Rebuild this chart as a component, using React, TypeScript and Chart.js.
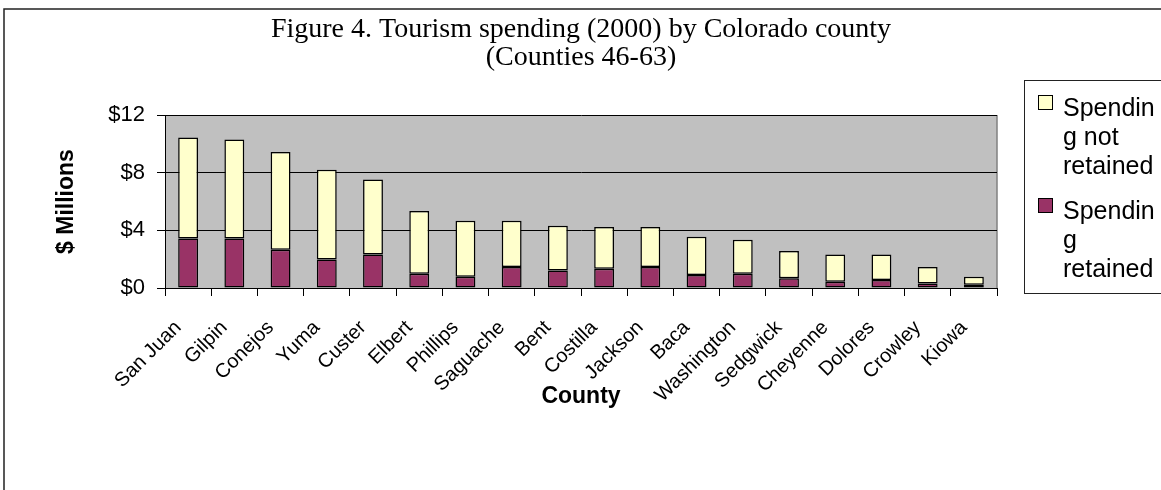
import React, { useEffect, useRef } from "react";
import { Chart, registerables } from "chart.js";

Chart.register(...registerables);

const counties = [
  "San Juan", "Gilpin", "Conejos", "Yuma", "Custer", "Elbert", "Phillips", "Saguache", "Bent",
  "Costilla", "Jackson", "Baca", "Washington", "Sedgwick", "Cheyenne", "Dolores", "Crowley", "Kiowa",
];
const retained = [3.44, 3.44, 2.66, 1.98, 2.33, 0.99, 0.78, 1.46, 1.22, 1.34, 1.46, 0.9, 0.99, 0.67, 0.44, 0.55, 0.32, 0.23];
const notRetained = [7.0, 6.86, 6.77, 6.22, 5.2, 4.35, 3.89, 3.21, 3.1, 2.89, 2.77, 2.66, 2.36, 1.9, 1.89, 1.78, 1.14, 0.55];
const yTicks = [0, 4, 8, 12];
const titleLines = ["Figure 4. Tourism spending (2000) by Colorado county", "(Counties 46-63)"];
const legendNotRetained = ["Spendin", "g not", "retained"];
const legendRetained = ["Spendin", "g", "retained"];

const framePlugin = {
  id: "frame",
  beforeDraw(chart: any) {
    const { ctx, chartArea } = chart;
    ctx.save();
    ctx.fillStyle = "#ffffff";
    ctx.fillRect(0, 0, chart.width, chart.height);
    ctx.strokeStyle = "#222";
    ctx.lineWidth = 1.5;
    ctx.strokeRect(4, 9, chart.width + 50, chart.height + 50);
    ctx.fillStyle = "#c0c0c0";
    ctx.fillRect(chartArea.left, chartArea.top, chartArea.right - chartArea.left, chartArea.bottom - chartArea.top);
    ctx.strokeStyle = "#808080";
    ctx.lineWidth = 1.5;
    ctx.beginPath();
    ctx.moveTo(chartArea.right, chartArea.top);
    ctx.lineTo(chartArea.right, chartArea.bottom);
    ctx.stroke();
    ctx.restore();
  },
};

const legendPlugin = {
  id: "customLegend",
  afterDraw(chart: any) {
    const { ctx } = chart;
    const items = [
      { lines: legendNotRetained, ds: chart.data.datasets[1] },
      { lines: legendRetained, ds: chart.data.datasets[0] },
    ];
    ctx.save();
    ctx.fillStyle = "#ffffff";
    ctx.fillRect(1024, 80, 200, 213);
    ctx.strokeStyle = "#222";
    ctx.lineWidth = 1;
    ctx.strokeRect(1024.5, 80.5, 200, 213);
    ctx.font = "25px Arial, 'Liberation Sans', sans-serif";
    ctx.textBaseline = "alphabetic";
    ctx.textAlign = "left";
    const starts = [95, 198];
    items.forEach((it, i) => {
      const y0 = starts[i];
      ctx.fillStyle = it.ds.backgroundColor;
      ctx.fillRect(1038, y0, 15, 15);
      ctx.strokeStyle = "#000";
      ctx.strokeRect(1038.5, y0 + 0.5, 14, 14);
      ctx.fillStyle = "#000";
      it.lines.forEach((ln: string, j: number) => {
        ctx.fillText(ln, 1063, y0 + 21 + j * 29);
      });
    });
    ctx.restore();
  },
};

export default function App() {
  const ref = useRef<HTMLCanvasElement>(null);
  useEffect(() => {
    if (!ref.current) return;
    const chart = new Chart(ref.current, {
      type: "bar",
      data: {
        labels: counties,
        datasets: [
          {
            label: "Spending retained",
            data: retained,
            backgroundColor: "#993366",
            borderColor: "#000",
            borderWidth: 1.5,
            borderSkipped: false,
            barPercentage: 0.43,
            categoryPercentage: 1,
          },
          {
            label: "Spending not retained",
            data: notRetained,
            backgroundColor: "#ffffcc",
            borderColor: "#000",
            borderWidth: 1.5,
            borderSkipped: false,
            barPercentage: 0.43,
            categoryPercentage: 1,
          },
        ],
      },
      options: {
        animation: false,
        responsive: false,
        maintainAspectRatio: false,
        layout: { padding: { left: 0, right: 164, top: 0, bottom: 0 } },
        plugins: {
          legend: { display: false },
          tooltip: { enabled: false },
          title: {
            display: true,
            fullSize: false,
            text: titleLines,
            color: "#000",
            font: { family: "'Liberation Serif', 'Times New Roman', serif", size: 28, weight: "normal", lineHeight: 1.0 },
            padding: { top: 16, bottom: 43 },
          },
        },
        scales: {
          x: {
            stacked: true,
            grid: { display: true, drawOnChartArea: false, drawTicks: true, tickLength: 8, color: "#000", offset: true },
            border: { display: true, color: "#000", width: 1 },
            ticks: {
              color: "#000",
              autoSkip: false,
              minRotation: 45,
              maxRotation: 45,
              padding: 20,
              labelOffset: -10,
              font: { family: "Arial, 'Liberation Sans', sans-serif", size: 20 },
            },
            title: {
              display: true,
              text: "County",
              color: "#000",
              font: { family: "Arial, 'Liberation Sans', sans-serif", size: 23, weight: "bold", lineHeight: 1.2 },
              padding: { top: 0, bottom: 80 },
            },
            afterFit(scale: any) {
              scale.height = 202;
            },
          },
          y: {
            stacked: true,
            min: 0,
            max: 12,
            afterBuildTicks(scale: any) {
              scale.ticks = yTicks.map((v) => ({ value: v }));
            },
            grid: { color: "#000", drawTicks: true, tickLength: 8, lineWidth: 1 },
            border: { display: true, color: "#000", width: 1 },
            ticks: {
              color: "#000",
              padding: 12,
              callback: (v: any) => "$" + v,
              font: { family: "Arial, 'Liberation Sans', sans-serif", size: 22 },
            },
            title: {
              display: true,
              text: "$ Millions",
              color: "#000",
              font: { family: "Arial, 'Liberation Sans', sans-serif", size: 23, weight: "bold", lineHeight: 1.2 },
              padding: { top: 53, bottom: 0 },
            },
            afterFit(scale: any) {
              scale.width = 165;
            },
          },
        },
      },
      plugins: [framePlugin, legendPlugin],
    });
    return () => chart.destroy();
  }, []);
  return (
    <div style={{ position: "absolute", left: 0, top: 0, width: 1161, height: 490 }}>
      <canvas ref={ref} width={1161} height={490} style={{ display: "block", width: 1161, height: 490 }} />
    </div>
  );
}
